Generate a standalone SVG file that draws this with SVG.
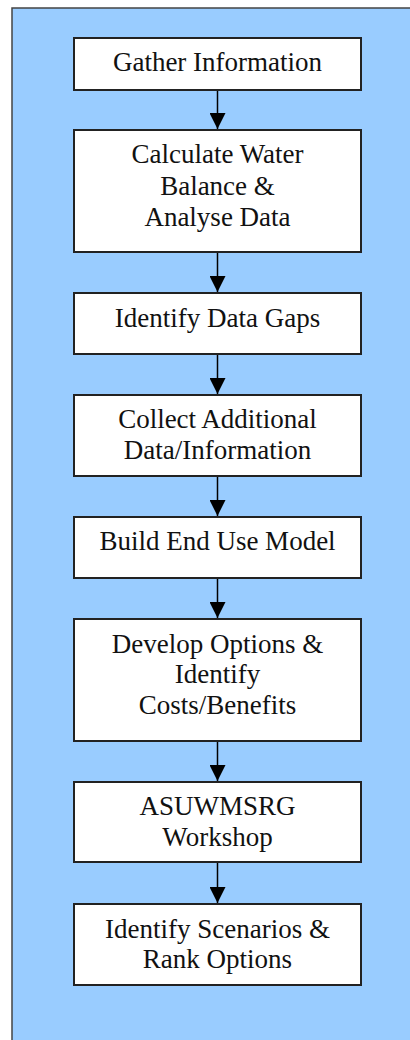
<svg xmlns="http://www.w3.org/2000/svg" width="410" height="1040" viewBox="0 0 410 1040">
<defs>
<style>
.bg{fill:#99CCFF;stroke:#444;stroke-width:1.5}
.box{fill:#fff;stroke:#222;stroke-width:2}
.t{font-family:'Liberation Serif','Tinos','DejaVu Serif',serif;font-size:27px;fill:#111;text-anchor:middle}
.c{stroke:#000;stroke-width:1.5;fill:none}
</style>
<marker id="ah" markerWidth="16" markerHeight="16" viewBox="0 0 16 16" refX="16" refY="8" orient="auto" markerUnits="userSpaceOnUse">
<path d="M0,0 L16,8 L0,16 Z" fill="#000"/>
</marker>
</defs>
<rect class="bg" x="12" y="8" width="410" height="1040"/>
<g id="connectors">
<line class="c" x1="217.5" y1="90" x2="217.5" y2="129" marker-end="url(#ah)"/>
<line class="c" x1="217.5" y1="252" x2="217.5" y2="292" marker-end="url(#ah)"/>
<line class="c" x1="217.5" y1="354" x2="217.5" y2="394" marker-end="url(#ah)"/>
<line class="c" x1="217.5" y1="476" x2="217.5" y2="516" marker-end="url(#ah)"/>
<line class="c" x1="217.5" y1="578" x2="217.5" y2="618" marker-end="url(#ah)"/>
<line class="c" x1="217.5" y1="741" x2="217.5" y2="781" marker-end="url(#ah)"/>
<line class="c" x1="217.5" y1="862" x2="217.5" y2="903" marker-end="url(#ah)"/>
</g>
<g id="n1"><rect class="box" x="74" y="38" width="287" height="52"/><text class="t" x="217.5" y="71" font-family="Liberation Serif, DejaVu Serif, serif">Gather Information</text></g>
<g id="n2"><rect class="box" x="74" y="130" width="287" height="122"/><text class="t" x="217.5" y="163">Calculate Water</text><text class="t" x="217.5" y="195">Balance &amp;</text><text class="t" x="217.5" y="226">Analyse Data</text></g>
<g id="n3"><rect class="box" x="74" y="293" width="287" height="61"/><text class="t" x="217.5" y="327">Identify Data Gaps</text></g>
<g id="n4"><rect class="box" x="74" y="395" width="287" height="81"/><text class="t" x="217.5" y="428">Collect Additional</text><text class="t" x="217.5" y="459">Data/Information</text></g>
<g id="n5"><rect class="box" x="74" y="517" width="287" height="61"/><text class="t" x="217.5" y="550">Build End Use Model</text></g>
<g id="n6"><rect class="box" x="74" y="619" width="287" height="122"/><text class="t" x="217.5" y="653">Develop Options &amp;</text><text class="t" x="217.5" y="683">Identify</text><text class="t" x="217.5" y="714">Costs/Benefits</text></g>
<g id="n7"><rect class="box" x="74" y="782" width="287" height="80"/><text class="t" x="217.5" y="815">ASUWMSRG</text><text class="t" x="217.5" y="846">Workshop</text></g>
<g id="n8"><rect class="box" x="74" y="904" width="287" height="81"/><text class="t" x="217.5" y="938">Identify Scenarios &amp;</text><text class="t" x="217.5" y="968">Rank Options</text></g>
</svg>
